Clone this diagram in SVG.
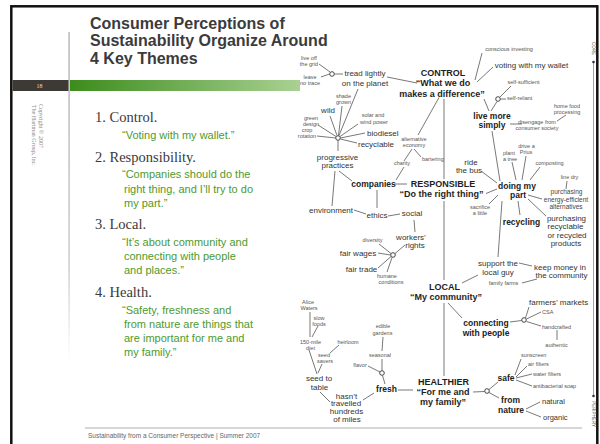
<svg xmlns="http://www.w3.org/2000/svg" width="600" height="444" viewBox="0 0 600 444">
<defs>
<linearGradient id="gbar" x1="0" x2="1" y1="0" y2="0"><stop offset="0" stop-color="#3c8c1c"/><stop offset="1" stop-color="#a9d192"/></linearGradient>
<linearGradient id="vline" x1="0" x2="0" y1="0" y2="1"><stop offset="0" stop-color="#bcbcbc"/><stop offset="0.7" stop-color="#cfcfcf"/><stop offset="1" stop-color="#ffffff"/></linearGradient>
<style>
text{font-family:"Liberation Sans",Arial,sans-serif}
.title{font-weight:bold;font-size:16px;fill:#3b3b3b}
.hd{font-family:"Liberation Serif","Times New Roman",serif;font-size:14.5px;fill:#3a3a3a}
.q{font-size:11px;fill:#4e9a2e}
.b9{font-weight:bold;font-size:9px;fill:#1e1e1e;text-anchor:middle}
.b8{font-weight:bold;font-size:8.5px;fill:#222;text-anchor:middle}
.r8{font-size:8px;fill:#333;text-anchor:middle}
.r7{font-size:6.5px;fill:#444;text-anchor:middle}
.t{font-size:5.5px;fill:#555;text-anchor:middle}
.s{text-anchor:start}
.hub{fill:#fff;stroke:#333;stroke-width:0.9}
#connectors line{stroke:#555;stroke-width:0.8;fill:none}
</style>
</defs>
<rect x="0" y="0" width="600" height="444" fill="#fff"/>
<rect x="11.3" y="6.3" width="586" height="460" fill="#fff" stroke="#111" stroke-width="2.5"/>

<g id="header">
<rect x="68.3" y="32" width="1.6" height="330" fill="url(#vline)"/>
<rect x="12.5" y="80" width="56" height="11" fill="#3d3a36"/>
<text x="39.5" y="87.8" style="font-family:'Liberation Serif',serif;font-size:6px;fill:#ddd;text-anchor:middle">18</text>
<rect x="70" y="80" width="230" height="11" fill="url(#gbar)"/>
<text class="title" x="90" y="28.5">Consumer Perceptions of</text>
<text class="title" x="90" y="46">Sustainability Organize Around</text>
<text class="title" x="90" y="63.5">4 Key Themes</text>
<text transform="translate(38.5,104) rotate(90)" style="font-family:'Liberation Serif',serif;font-size:6px;fill:#888">Copyright © 2007</text>
<text transform="translate(32,105) rotate(90)" style="font-family:'Liberation Serif',serif;font-size:6px;fill:#888">The Hartman Group, Inc.</text>
</g>

<g id="themes">
<text class="hd" x="95" y="121.7">1. Control.</text>
<text class="q" x="122" y="139">“Voting with my wallet.”</text>
<text class="hd" x="95" y="162.3">2. Responsibility.</text>
<text class="q"><tspan x="122" y="178">“Companies should do the</tspan><tspan x="124" y="192.5">right thing, and I’ll try to do</tspan><tspan x="124" y="207">my part.”</tspan></text>
<text class="hd" x="95" y="229">3. Local.</text>
<text class="q"><tspan x="122" y="246">“It’s about community and</tspan><tspan x="124" y="260">connecting with people</tspan><tspan x="124" y="274">and places.”</tspan></text>
<text class="hd" x="95" y="296.7">4. Health.</text>
<text class="q"><tspan x="122" y="313.5">“Safety, freshness and</tspan><tspan x="124" y="327.8">from nature are things that</tspan><tspan x="124" y="342">are important for me and</tspan><tspan x="124" y="356">my family.”</tspan></text>
</g>

<g id="footer">
<line x1="85" y1="428" x2="582" y2="428" stroke="#999" stroke-width="0.8"/>
<text x="88" y="438" style="font-size:6.5px;fill:#666">Sustainability from a Consumer Perspective | Summer 2007</text>
</g>

<g id="axis">
<line x1="593.5" y1="62" x2="593.5" y2="396" stroke="#888" stroke-width="0.8"/>
<circle cx="593.5" cy="62" r="1.3" fill="#333"/>
<circle cx="593.5" cy="396" r="1.3" fill="#333"/>
<text transform="translate(592,42) rotate(90)" style="font-size:4.5px;fill:#555">CORE</text>
<text transform="translate(592,401) rotate(90)" style="font-size:4.5px;fill:#555">PERIPHERY</text>
</g>

<g id="connectors">
<line x1="319" y1="64" x2="330" y2="72"/>
<line x1="321" y1="77" x2="329.5" y2="74"/>
<line x1="334.5" y1="74" x2="343" y2="74"/>
<line x1="387" y1="77" x2="417" y2="83"/>
<line x1="358" y1="89" x2="339" y2="135.5"/>
<line x1="330" y1="116" x2="337" y2="135.5"/>
<line x1="342" y1="106" x2="338.5" y2="135.5"/>
<line x1="318" y1="125" x2="336" y2="136.5"/>
<line x1="317" y1="136" x2="335.5" y2="138"/>
<line x1="358" y1="124" x2="340" y2="136.5"/>
<line x1="365" y1="133" x2="340.5" y2="138"/>
<line x1="357" y1="143" x2="340.5" y2="139"/>
<line x1="338" y1="140.5" x2="338" y2="151"/>
<line x1="335" y1="171" x2="332" y2="206"/>
<line x1="339" y1="171" x2="352" y2="181"/>
<line x1="395" y1="184" x2="407" y2="184"/>
<line x1="396" y1="180" x2="404" y2="167"/>
<line x1="404" y1="161" x2="412" y2="149"/>
<line x1="414" y1="149" x2="421" y2="157"/>
<line x1="439" y1="97.5" x2="418" y2="135"/>
<line x1="444" y1="99" x2="444" y2="179"/>
<line x1="475" y1="80" x2="482" y2="53"/>
<line x1="477" y1="82" x2="493" y2="67"/>
<line x1="484" y1="99" x2="489" y2="111"/>
<line x1="497" y1="101.5" x2="491" y2="111"/>
<line x1="500" y1="97" x2="511" y2="86"/>
<line x1="500.5" y1="99" x2="506" y2="99"/>
<line x1="510" y1="124" x2="522" y2="124"/>
<line x1="557" y1="121" x2="566" y2="115"/>
<line x1="492" y1="131" x2="500" y2="181"/>
<line x1="481" y1="171" x2="497" y2="183"/>
<line x1="486" y1="193.5" x2="497" y2="189"/>
<line x1="489" y1="204" x2="498" y2="195"/>
<line x1="512" y1="162" x2="516" y2="180"/>
<line x1="526" y1="156" x2="522" y2="180"/>
<line x1="540" y1="167" x2="530" y2="180"/>
<line x1="567" y1="181" x2="566" y2="189"/>
<line x1="528" y1="195" x2="542" y2="199"/>
<line x1="528" y1="199" x2="546" y2="216"/>
<line x1="518" y1="201" x2="520" y2="215"/>
<line x1="502" y1="201" x2="498" y2="257"/>
<line x1="444" y1="201" x2="444" y2="280"/>
<line x1="414" y1="220" x2="415" y2="232"/>
<line x1="354" y1="210" x2="366" y2="214"/>
<line x1="388" y1="216" x2="400" y2="214"/>
<line x1="377" y1="190" x2="377" y2="208"/>
<line x1="405" y1="245" x2="395" y2="253.5"/>
<line x1="379" y1="244" x2="391" y2="253.5"/>
<line x1="378" y1="253" x2="390.5" y2="255"/>
<line x1="378" y1="268" x2="391" y2="256.5"/>
<line x1="387" y1="272" x2="392" y2="257.5"/>
<line x1="462" y1="283" x2="478" y2="275"/>
<line x1="519" y1="263" x2="532" y2="266"/>
<line x1="522" y1="283" x2="537" y2="279"/>
<line x1="448" y1="303" x2="462" y2="318"/>
<line x1="444" y1="303" x2="444" y2="376"/>
<line x1="510" y1="322" x2="521.5" y2="320.5"/>
<line x1="525.5" y1="318" x2="529" y2="307"/>
<line x1="526.5" y1="319" x2="541" y2="312"/>
<line x1="526.5" y1="321.5" x2="541" y2="326"/>
<line x1="557" y1="330" x2="557" y2="340"/>
<line x1="473" y1="392" x2="484.5" y2="391.5"/>
<line x1="489" y1="389.5" x2="498" y2="382"/>
<line x1="489" y1="392.5" x2="499" y2="398"/>
<line x1="515" y1="375" x2="521" y2="359"/>
<line x1="516" y1="377" x2="527" y2="366"/>
<line x1="516" y1="378" x2="532" y2="374"/>
<line x1="516" y1="380" x2="532" y2="386"/>
<line x1="526" y1="409" x2="540" y2="402"/>
<line x1="526" y1="411" x2="541" y2="417"/>
<line x1="398" y1="390" x2="413" y2="390"/>
<line x1="385" y1="384" x2="382.5" y2="375.5"/>
<line x1="368" y1="366" x2="380" y2="372"/>
<line x1="382" y1="359" x2="382" y2="370.5"/>
<line x1="383" y1="337" x2="382" y2="351"/>
<line x1="374" y1="393" x2="363" y2="400"/>
<line x1="320" y1="392" x2="330" y2="402"/>
<line x1="322" y1="364" x2="318" y2="373"/>
<line x1="339" y1="345" x2="330" y2="353"/>
<line x1="309" y1="350" x2="317" y2="374"/>
<line x1="310" y1="312" x2="310" y2="337"/>
<line x1="318" y1="326" x2="312" y2="337"/>
</g>

<g id="hubs">
<circle class="hub" cx="332" cy="74" r="2.3"/>
<circle class="hub" cx="338" cy="138" r="2.3"/>
<circle class="hub" cx="498" cy="99" r="2.3"/>
<circle class="hub" cx="393" cy="255" r="2.3"/>
<circle class="hub" cx="524" cy="320" r="2.3"/>
<circle class="hub" cx="487" cy="391" r="2.3"/>
<circle class="hub" cx="382" cy="373" r="2.3"/>
</g>

<g id="n-control"><text class="b9"><tspan x="443" y="75.5">CONTROL</tspan><tspan x="443" y="86">“What we do</tspan><tspan x="442" y="96.5">makes a difference”</tspan></text></g>
<g id="n-responsible"><text class="b9"><tspan x="443" y="186.5">RESPONSIBLE</tspan><tspan x="441.5" y="197">“Do the right thing”</tspan></text></g>
<g id="n-local"><text class="b9"><tspan x="444.5" y="289.5">LOCAL</tspan><tspan x="446" y="300">“My community”</tspan></text></g>
<g id="n-healthier"><text class="b9"><tspan x="443.5" y="385">HEALTHIER</tspan><tspan x="443" y="395">“For me and</tspan><tspan x="443" y="405">my family”</tspan></text></g>

<g id="n-liveoff"><text class="t"><tspan x="309" y="60">live off</tspan><tspan x="309" y="65.5">the grid</tspan></text></g>
<g id="n-leave"><text class="t"><tspan x="310" y="78.5">leave</tspan><tspan x="310" y="84.5">no trace</tspan></text></g>
<g id="n-tread"><text class="r8"><tspan x="365" y="76">tread lightly</tspan><tspan x="365" y="86">on the planet</tspan></text></g>
<g id="n-conscious"><text class="t" x="509" y="51">conscious investing</text></g>
<g id="n-voting"><text class="r8" x="531.5" y="68">voting with my wallet</text></g>
<g id="n-selfsuff"><text class="t" x="523.5" y="84">self-sufficient</text></g>
<g id="n-selfrel"><text class="t s" x="507" y="100">self-reliant</text></g>
<g id="n-livemore"><text class="b8"><tspan x="492" y="119">live more</tspan><tspan x="492" y="128">simply</tspan></text></g>
<g id="n-homefood"><text class="t"><tspan x="567" y="108">home food</tspan><tspan x="567" y="114">processing</tspan></text></g>
<g id="n-disengage"><text class="t"><tspan x="537" y="124">disengage from</tspan><tspan x="537" y="129.5">consumer society</tspan></text></g>

<g id="n-wild"><text class="r8" x="328" y="113">wild</text></g>
<g id="n-shade"><text class="t"><tspan x="343.5" y="97.5">shade</tspan><tspan x="343.5" y="103.5">grown</tspan></text></g>
<g id="n-green"><text class="t"><tspan x="311" y="119.5">green</tspan><tspan x="311" y="125.5">design</tspan></text></g>
<g id="n-crop"><text class="t"><tspan x="307" y="132">crop</tspan><tspan x="307" y="137.5">rotation</tspan></text></g>
<g id="n-solar"><text class="t"><tspan x="373" y="117">solar and</tspan><tspan x="374" y="123.5">wind power</tspan></text></g>
<g id="n-biodiesel"><text class="r8 s" x="367" y="136">biodiesel</text></g>
<g id="n-recyclable"><text class="r8 s" x="358" y="147">recyclable</text></g>
<g id="n-progressive"><text class="r8"><tspan x="337.5" y="160">progressive</tspan><tspan x="337.5" y="168">practices</tspan></text></g>
<g id="n-alternative"><text class="t"><tspan x="414" y="141">alternative</tspan><tspan x="414" y="146.5">economy</tspan></text></g>
<g id="n-bartering"><text class="t s" x="422" y="161">bartering</text></g>
<g id="n-charity"><text class="t" x="402" y="165">charity</text></g>
<g id="n-companies"><text class="b8" x="373.5" y="187">companies</text></g>
<g id="n-environment"><text class="r8" x="331" y="213">environment</text></g>
<g id="n-ethics"><text class="r8" x="377" y="218">ethics</text></g>
<g id="n-social"><text class="r8" x="412" y="216">social</text></g>
<g id="n-workers"><text class="r8"><tspan x="411" y="240">workers’</tspan><tspan x="415" y="248">rights</tspan></text></g>
<g id="n-diversity"><text class="t" x="372.5" y="242">diversity</text></g>
<g id="n-fairwages"><text class="r8" x="358" y="256">fair wages</text></g>
<g id="n-fairtrade"><text class="r8" x="361.5" y="272">fair trade</text></g>
<g id="n-humane"><text class="t"><tspan x="387" y="278">humane</tspan><tspan x="391" y="284">conditions</tspan></text></g>

<g id="n-ride"><text class="r8"><tspan x="471" y="165">ride</tspan><tspan x="469" y="173">the bus</tspan></text></g>
<g id="n-plant"><text class="t"><tspan x="509" y="155">plant</tspan><tspan x="510" y="160.5">a tree</tspan></text></g>
<g id="n-prius"><text class="t"><tspan x="526.5" y="148">drive a</tspan><tspan x="526" y="154">Prius</tspan></text></g>
<g id="n-composting"><text class="t" x="549.5" y="165">composting</text></g>
<g id="n-linedry"><text class="t" x="569.5" y="179">line dry</text></g>
<g id="n-energy"><text class="r7"><tspan x="566.5" y="194">purchasing</tspan><tspan x="566" y="201.5">energy-efficient</tspan><tspan x="566" y="209">alternatives</tspan></text></g>
<g id="n-doing"><text class="b8"><tspan x="517" y="189">doing my</tspan><tspan x="518" y="198">part</tspan></text></g>
<g id="n-sacrifice"><text class="t"><tspan x="480" y="209">sacrifice</tspan><tspan x="480" y="215">a little</tspan></text></g>
<g id="n-recycling"><text class="b8" x="521.5" y="225">recycling</text></g>
<g id="n-purchrec"><text class="r8"><tspan x="566.5" y="220.5">purchasing</tspan><tspan x="565.5" y="229">recyclable</tspan><tspan x="567" y="237.5">or recycled</tspan><tspan x="566" y="246">products</tspan></text></g>

<g id="n-support"><text class="r8"><tspan x="498" y="266">support the</tspan><tspan x="498" y="275">local guy</tspan></text></g>
<g id="n-keep"><text class="r8"><tspan x="560" y="269.5">keep money in</tspan><tspan x="561.5" y="277.5">the community</tspan></text></g>
<g id="n-family"><text class="t" x="503.5" y="285">family farms</text></g>
<g id="n-connecting"><text class="b8"><tspan x="486" y="326">connecting</tspan><tspan x="486" y="336">with people</tspan></text></g>
<g id="n-farmers"><text class="r8 s" x="529" y="305">farmers’ markets</text></g>
<g id="n-csa"><text class="t s" x="542" y="314">CSA</text></g>
<g id="n-handcrafted"><text class="t s" x="542" y="328.5">handcrafted</text></g>
<g id="n-authentic"><text class="t" x="556.5" y="347">authentic</text></g>

<g id="n-safe"><text class="b8" x="506" y="381">safe</text></g>
<g id="n-fromnature"><text class="b8"><tspan x="510.5" y="403">from</tspan><tspan x="511" y="413">nature</tspan></text></g>
<g id="n-sunscreen"><text class="t s" x="521" y="357">sunscreen</text></g>
<g id="n-airfilters"><text class="t s" x="528" y="366">air filters</text></g>
<g id="n-waterfilters"><text class="t s" x="533" y="376">water filters</text></g>
<g id="n-antibacterial"><text class="t s" x="533" y="388">antibacterial soap</text></g>
<g id="n-natural"><text class="r8 s" x="542" y="403.5" style="font-size:7.5px">natural</text></g>
<g id="n-organic"><text class="r8 s" x="543" y="419.5" style="font-size:7.5px">organic</text></g>

<g id="n-fresh"><text class="b8" x="386.5" y="392">fresh</text></g>
<g id="n-flavor"><text class="t" x="360" y="367">flavor</text></g>
<g id="n-seasonal"><text class="t" x="380" y="357">seasonal</text></g>
<g id="n-edible"><text class="t"><tspan x="383" y="328">edible</tspan><tspan x="382.5" y="335">gardens</tspan></text></g>
<g id="n-hasnt"><text class="r8"><tspan x="346.5" y="398.5">hasn’t</tspan><tspan x="346" y="406">travelled</tspan><tspan x="346.5" y="413.5">hundreds</tspan><tspan x="347" y="421.5">of miles</tspan></text></g>
<g id="n-seedtable"><text class="r8"><tspan x="319" y="381">seed to</tspan><tspan x="319.5" y="390">table</tspan></text></g>
<g id="n-seedsavers"><text class="t"><tspan x="324" y="357">seed</tspan><tspan x="325" y="363">savers</tspan></text></g>
<g id="n-heirloom"><text class="t" x="348" y="344">heirloom</text></g>
<g id="n-150"><text class="t"><tspan x="310.5" y="344">150-mile</tspan><tspan x="310.5" y="349.5">diet</tspan></text></g>
<g id="n-alice"><text class="t"><tspan x="308" y="304">Alice</tspan><tspan x="309" y="310">Waters</tspan></text></g>
<g id="n-slow"><text class="t"><tspan x="319" y="320">slow</tspan><tspan x="319" y="325.5">foods</tspan></text></g>
</svg>
